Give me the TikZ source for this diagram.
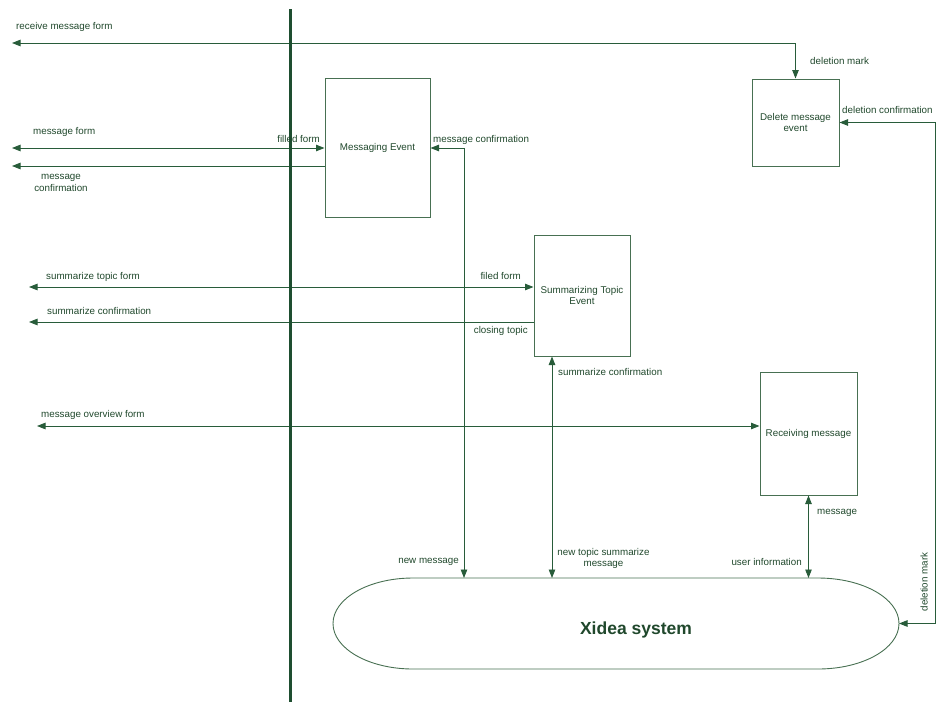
\documentclass[tikz,border=0pt]{standalone}
\usepackage{fontspec}
\setmainfont{Liberation Sans}
\usetikzlibrary{arrows.meta}
\definecolor{wire}{RGB}{40,92,58}
\definecolor{ink}{RGB}{32,72,44}
\definecolor{frame}{RGB}{72,112,82}
\definecolor{bar}{RGB}{30,78,48}
\begin{document}
\begin{tikzpicture}[x=1pt,y=-1pt,
  every node/.style={font=\fontsize{9.8}{11.5}\selectfont, text=ink, inner sep=0pt},
  proc/.style={draw=frame, line width=1pt, align=center},
  flow/.style={draw=wire, line width=0.9pt},
  >={Triangle[length=8.5pt,width=6.5pt]},
  lbl/.style={anchor=base west},
  lblr/.style={anchor=base east}]
\useasboundingbox (0,0) rectangle (937,702);

% process boxes
\node[proc, minimum width=105pt, minimum height=139pt] (msg)  at (377.5,148)   {Messaging Event};
\node[proc, minimum width=87pt,  minimum height=87pt]  (del)  at (795.5,122.5) {Delete message\\event};
\node[proc, minimum width=96pt,  minimum height=121pt] (summ) at (582,295.5)   {Summarizing Topic\\Event};
\node[proc, minimum width=97pt,  minimum height=123pt] (rec)  at (808.5,433.5) {Receiving message};

% Xidea system: stadium with elliptic ends
\draw[frame, line width=0.9pt] (413,578) -- (818,578)
  arc[start angle=-90, end angle=90, x radius=81, y radius=45.5]
  -- (413,669)
  arc[start angle=90, end angle=270, x radius=80, y radius=45.5] -- cycle;
\node[font=\fontsize{17.5}{20}\selectfont\bfseries] (xidea) at (636,630) {Xidea system};
\coordinate (xs1) at (464,578);
\coordinate (xs2) at (552,578);
\coordinate (xs3) at (808.5,578);
\coordinate (xr)  at (899,623.5);

% free ends on the left
\coordinate (rmL) at (12,43);
\coordinate (mfL) at (12,148);
\coordinate (mcL) at (12,166);
\coordinate (stL) at (29,287);
\coordinate (scL) at (29,322);
\coordinate (movL) at (37,426);
\coordinate (dcorner) at (935,400);

% connectors
\draw[flow,<->] (rmL) -| (del.north);
\draw[flow,<->] (mfL) -- (mfL -| msg.west);
\draw[flow,->] (msg.west |- mcL) -- (mcL);
\draw[flow,<->] (msg.east) -| (xs1);
\draw[flow,<->] (stL) -- (stL -| summ.west);
\draw[flow,->] (summ.west |- scL) -- (scL);
\draw[flow,<->] (xs2 |- summ.south) -- (xs2);
\draw[flow,<->] (movL) -- (movL -| rec.west);
\draw[flow,<->] (rec.south) -- (xs3);
\draw[flow,<->] (del.east) -| (dcorner) |- (xr);

% system boundary
\draw[bar, line width=3pt] (290,9) -- (290,702);

% labels
\node[lbl] (t1) at (16,29.5) {receive message form};
\node[lbl] (t2) at (810,64) {deletion mark};
\node[lbl] (t3) at (842,113) {deletion confirmation};
\node[lbl] (t4) at (33,134) {message form};
\node[lblr] (t5) at (320,142.5) {filled form};
\node[align=center, anchor=north] (t6) at (61,174.5) {message\\confirmation};
\node[lbl] (t7) at (433,142) {message confirmation};
\node[lbl] (t8) at (46,279) {summarize topic form};
\node[lbl] (t9) at (47,314) {summarize confirmation};
\node[lblr] (t10) at (521,279) {filed form};
\node[lblr] (t11) at (528,333) {closing topic};
\node[lbl] (t12) at (558,375) {summarize confirmation};
\node[lbl] (t13) at (41,417) {message overview form};
\node[lbl] (t14) at (817,514) {message};
\node[lblr] (t15) at (802,565) {user information};
\node[lblr] (t16) at (459,563) {new message};
\node[align=center, anchor=north] (t17) at (603.5,548) {new topic summarize\\message};
\node[rotate=90] (t18) at (924,582) {deletion mark};
\end{tikzpicture}
\end{document}
